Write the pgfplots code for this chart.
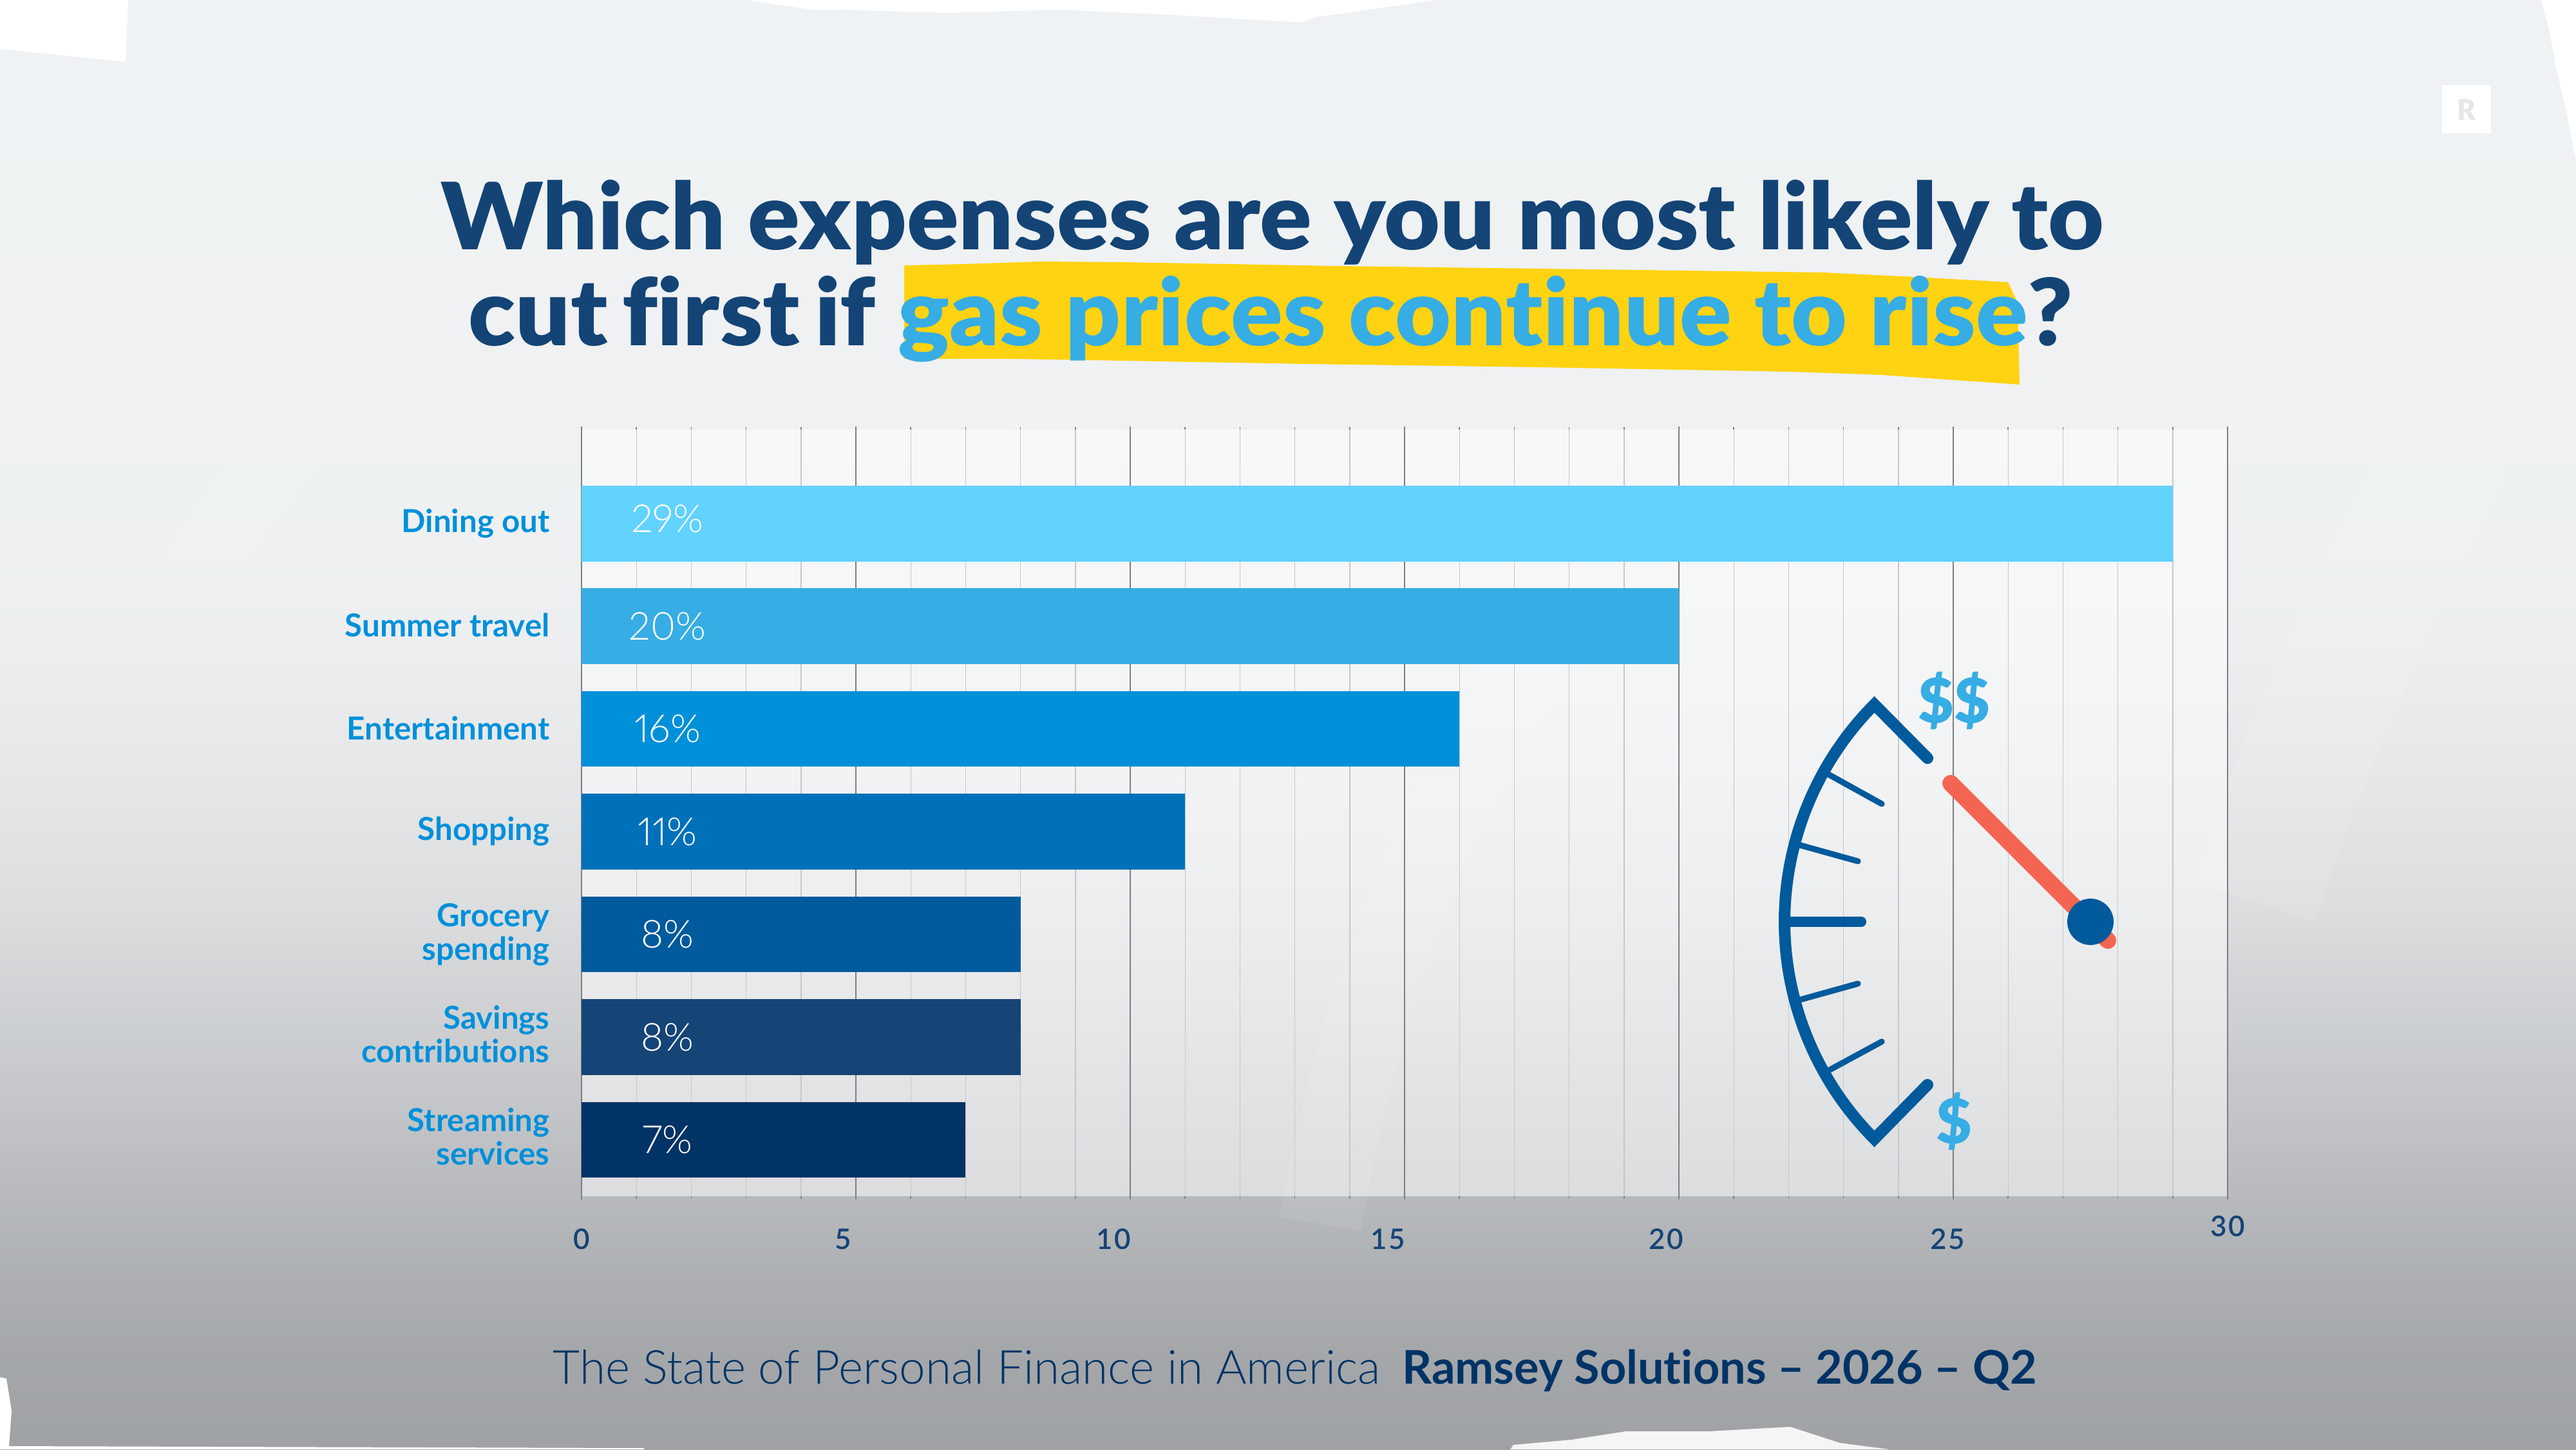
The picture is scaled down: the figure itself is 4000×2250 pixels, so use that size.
\documentclass[border=0pt]{standalone}
\usepackage{fontspec}
\usepackage{pgfplots}
\pgfplotsset{compat=1.18}
\setmainfont{Lato}
\newfontfamily\titlef[Ligatures=NoCommon,FakeStretch=1.04]{Lato Black}
\newfontfamily\dollarf{Lato Black}
\newfontfamily\semif[Ligatures=NoCommon]{Lato Semibold}
\newfontfamily\boldf[Ligatures=NoCommon]{Lato Bold}
\newfontfamily\lightf[Ligatures=NoCommon,Numbers=Proportional]{Lato Light}
\definecolor{navy}{HTML}{134475}
\definecolor{sky}{HTML}{36ADE4}
\definecolor{hl}{HTML}{FFD311}
\definecolor{cat}{HTML}{0090DA}
\definecolor{tickc}{HTML}{154476}
\definecolor{foot}{HTML}{003366}
\definecolor{gaugeb}{HTML}{015A9C}
\definecolor{needle}{HTML}{F46453}
\definecolor{gmaj}{HTML}{7D7F82}
\definecolor{gmin}{HTML}{C5C7C9}
\definecolor{b1}{HTML}{62D2FF}
\definecolor{b2}{HTML}{36ADE4}
\definecolor{b3}{HTML}{0090DA}
\definecolor{b4}{HTML}{0071B9}
\definecolor{b5}{HTML}{005A9C}
\definecolor{b6}{HTML}{154476}
\definecolor{b7}{HTML}{003366}
\pgfdeclareverticalshading{bgshade}{100bp}{rgb(0bp)=(0.625,0.635,0.645);rgb(25bp)=(0.625,0.635,0.645);rgb(28.3bp)=(0.645,0.655,0.665);rgb(31.7bp)=(0.69,0.70,0.71);rgb(37.2bp)=(0.77,0.78,0.79);rgb(43.9bp)=(0.862,0.87,0.876);rgb(48.3bp)=(0.898,0.906,0.912);rgb(52.8bp)=(0.925,0.933,0.94);rgb(57.2bp)=(0.935,0.944,0.95);rgb(75bp)=(0.938,0.95,0.957);rgb(100bp)=(0.938,0.95,0.957)}
\begin{document}
\begin{tikzpicture}
\begin{scope}[x=.25pt,y=-.25pt]
\path[use as bounding box] (0,0) rectangle (4000,2250);
\shade[shading=bgshade] (0,0) rectangle (4000,2250);
% brush watermark
\draw[white,opacity=.1,line width=30pt,line cap=butt] (300,900) .. controls (520,520) and (830,400) .. (1300,147) .. controls (1500,120) and (1650,170) .. (1700,300) .. controls (1740,420) and (1660,560) .. (1600,680);
\draw[white,opacity=.1,line width=50pt,line cap=butt] (3500,1400) .. controls (3600,1100) and (3700,900) .. (3810,680);
\draw[white,opacity=.08,line width=32pt,line cap=butt] (2050,1900) .. controls (2120,1500) and (2250,1200) .. (2400,1000);
% torn white edges
\fill[white] (0,0) -- (199,0) -- (195,96) -- (0,76) -- cycle;
\fill[white] (1160,0) -- (1260,15) -- (1300,15) -- (1472,20) -- (1645,15) -- (1817,23) -- (2024,35) -- (2041,27) -- (2231,0) -- cycle;
\fill[white] (3946,0) -- (3959,50) -- (3970,110) -- (3985,173) -- (4000,250) -- (4000,0) -- cycle;
\fill[white] (0,2138) -- (10,2140) -- (18,2190) -- (14,2245) -- (1000,2248) -- (1000,2250) -- (0,2250) -- cycle;
\fill[white,opacity=.9] (2345,2250) -- (2350,2243) -- (2440,2235) -- (2525,2222) -- (2653,2222) -- (2780,2215) -- (2857,2240) -- (2934,2250) -- cycle;
% logo
\fill[white] (3792,132) rectangle (3868,207);
\node[text=gmin!45!white,font=\dollarf\fontsize{11}{11}\selectfont] at (3830,170) {R};
% highlight
\fill[hl] (1404,412) -- (1493,410) -- (1618,406) -- (1743,407) -- (2082,413) -- (2386,417) -- (2832,423) -- (2975,430) -- (3118,438) -- (3133,470) -- (3136,597) -- (2921,582) -- (2779,577) -- (2386,570) -- (2029,565) -- (1689,559) -- (1564,557) -- (1404,557) -- cycle;
% title
\node[anchor=base,text=navy,font=\titlef\fontsize{36}{36}\selectfont,inner sep=0] at (1976,387) {Which expenses are you most likely to};
\node[anchor=base west,text=navy,font=\titlef\fontsize{36}{36}\selectfont,inner sep=0] at (727,536) {cut\hspace{-3pt} first\hspace{-3pt} if {\color{sky}\addfontfeature{LetterSpace=0.3}gas prices continue to rise}?};
% footer
\node[anchor=base,text=foot,font=\lightf\fontsize{18.2}{18.2}\selectfont,inner sep=0] at (1501,2148) {The State of Personal Finance in America};
\node[anchor=base,text=foot,font=\boldf\fontsize{18}{18}\selectfont,inner sep=0] at (2670,2148) {Ramsey Solutions – 2026 – Q2};
\end{scope}

\begin{axis}[
  at={(225.75pt,-464.25pt)}, anchor=south west,
  scale only axis, width=639pt, height=297.5pt,
  xmin=0, xmax=30, ymin=-0.914, ymax=6.549,
  y dir=reverse,
  xbar, bar width=29.375pt,
  axis background/.style={fill=white,fill opacity=0.5},
  separate axis lines,
  x axis line style={draw=none},
  y axis line style={draw=gmaj,line width=.55pt},
  xtick={0,5,...,30}, xticklabels={},
  minor x tick num=4,
  xmajorgrids, xminorgrids,
  major grid style={draw=gmaj,line width=.45pt},
  minor grid style={draw=gmin,line width=.35pt},
  tick align=outside,
  major tick length=1.2pt, minor tick length=1.1pt,
  x tick style={draw=gmaj,line width=.4pt},
  extra x ticks={0,4.77,9.7,14.7,19.77,24.9,30},
  extra x tick labels={0,5,10,15,20,25,{\raisebox{5pt}[\height]{30}}},
  extra x tick style={grid=none,major tick length=0pt},
  xticklabel style={font=\semif\fontsize{11}{11}\selectfont\addfontfeature{LetterSpace=6},text=tickc,inner sep=0pt,yshift=-12.5pt},
  ytick={0,0.99,1.99,3,4,4.97,5.97},
  yticklabels={Dining out,Summer travel,Entertainment,Shopping,{Grocery\\spending},{Savings\\contributions},{Streaming\\services}},
  y tick style={draw=none},
  yticklabel style={align=right,font=\boldf\fontsize{12.3}{13}\selectfont,text=cat,inner sep=0pt,xshift=-11pt},
  clip=false,
]
\addplot[fill=b1,draw=none,bar shift=0pt] coordinates {(29,0)};
\addplot[fill=b2,draw=none,bar shift=0pt] coordinates {(20,1)};
\addplot[fill=b3,draw=none,bar shift=0pt] coordinates {(16,2)};
\addplot[fill=b4,draw=none,bar shift=0pt] coordinates {(11,3)};
\addplot[fill=b5,draw=none,bar shift=0pt] coordinates {(8,4)};
\addplot[fill=b6,draw=none,bar shift=0pt] coordinates {(8,5)};
\addplot[fill=b7,draw=none,bar shift=0pt] coordinates {(7,6)};
\foreach \v/\t in {-0.05/29,1/20,2/16,3/11,4/8,5/8,6/7}{
  \edef\temp{\noexpand\node[text=white,font=\noexpand\lightf\noexpand\fontsize{15}{15}\noexpand\selectfont] at (axis cs:1.567,\v) {\t\noexpand\%};}
  \temp
}
\end{axis}

\begin{scope}[x=.25pt,y=-.25pt]
% gauge
\draw[gaugeb,line width=4.5pt,line join=miter,miter limit=10,line cap=round] (2993,1177) -- (2910.5,1093.6) .. controls (2821.5,1182.8) and (2771,1305) .. (2771,1431) .. controls (2771,1557) and (2821.5,1679) .. (2910.5,1768) -- (2993,1684);
\draw[gaugeb,line width=2.3pt,line cap=round] (2839,1202) -- (2922,1248) (2795,1312) -- (2885,1337) (2795,1552) -- (2885,1527) (2839,1662) -- (2922,1617);
\draw[gaugeb,line width=4pt,line cap=round] (2778,1431) -- (2890,1431);
\draw[needle,line width=6.5pt,line cap=round] (3029,1216) -- (3273,1460);
\fill[gaugeb] (3246,1431) circle[radius=36];
\node[text=sky,font=\dollarf\fontsize{24}{24}\selectfont,inner sep=0] at (3034,1088) {\$\$};
\node[text=sky,font=\dollarf\fontsize{24}{24}\selectfont,inner sep=0] at (3034,1741) {\$};
\end{scope}
\end{tikzpicture}
\end{document}
